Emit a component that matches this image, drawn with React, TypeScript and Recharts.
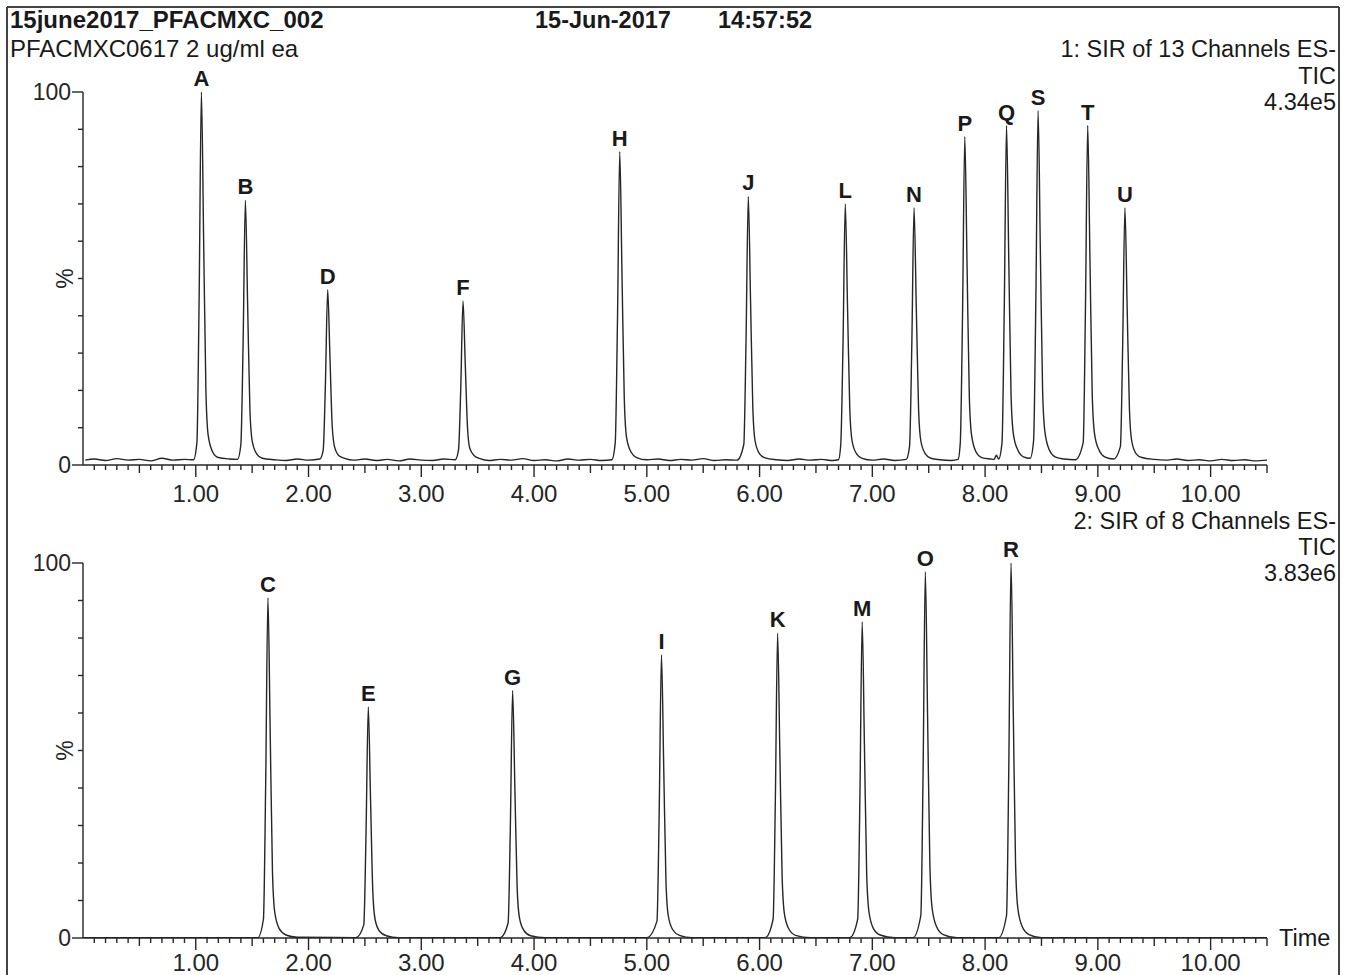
import React from 'react';
import { ComposedChart, Line, XAxis, YAxis, ReferenceDot } from 'recharts';

const FONT = '"Liberation Sans", Arial, Helvetica, sans-serif';
const INK = '#262626';

// ---- axes ----
const xDomain: [number, number] = [0, 10.5];
const majorTickValues = [1, 2, 3, 4, 5, 6, 7, 8, 9, 10];
const majorTickLabels = ['1.00', '2.00', '3.00', '4.00', '5.00', '6.00', '7.00', '8.00', '9.00', '10.00'];
const xTicks = Array.from({ length: 105 }, (_, i) => (i + 1) / 10);
const yTickValues = [0, 10, 20, 30, 40, 50, 60, 70, 80, 90, 100];

// ---- panel 1: SIR of 13 Channels ES- TIC (4.34e5) ----
const topPeakNames = ['A', 'B', 'D', 'F', 'H', 'J', 'L', 'N', 'P', 'Q', 'S', 'T', 'U'];
const topPeakTimes = [1.05, 1.44, 2.17, 3.37, 4.76, 5.9, 6.76, 7.37, 7.82, 8.19, 8.47, 8.91, 9.24];
const topPeakHeights = [100, 71, 47, 44, 84, 72, 70, 69, 88, 91, 95, 91, 69];

const topTrace: [number, number][] = [
  [0.02, 1.3], [0.1, 1.6], [0.2, 1.2], [0.3, 1.7], [0.4, 1.3], [0.5, 1.5], [0.6, 1.1], [0.7, 1.8], [0.8, 1.3], [0.9, 1.5], [0.98, 1.4],
  [1.01, 6], [1.03, 45], [1.05, 100], [1.07, 60], [1.09, 20], [1.11, 8], [1.15, 3.5], [1.2, 2],
  [1.3, 1.6], [1.37, 1.5],
  [1.4, 5.5], [1.42, 33], [1.44, 71], [1.46, 43], [1.48, 15], [1.5, 6.5], [1.54, 3], [1.59, 1.8],
  [1.7, 1.4], [1.8, 1.2], [1.9, 1.6], [2.0, 1.3], [2.1, 1.6],
  [2.13, 4], [2.15, 22], [2.17, 47], [2.19, 29], [2.21, 10.5], [2.23, 5], [2.27, 2.5], [2.32, 1.8],
  [2.4, 1.3], [2.5, 1.6], [2.6, 1.2], [2.7, 1.5], [2.8, 1.1], [2.9, 1.6], [3.0, 1.3], [3.1, 1.2], [3.2, 1.6], [3.3, 1.4],
  [3.33, 4], [3.35, 20.5], [3.37, 44], [3.39, 27], [3.41, 10], [3.43, 4.5], [3.47, 2.5], [3.52, 1.7],
  [3.6, 1.2], [3.7, 1.5], [3.8, 1.3], [3.9, 1.7], [4.0, 1.2], [4.1, 1.4], [4.2, 1.1], [4.3, 1.6], [4.4, 1.3], [4.5, 1.5], [4.6, 1.2], [4.69, 1.4],
  [4.72, 6], [4.74, 39], [4.76, 84], [4.78, 51], [4.8, 18], [4.82, 7.5], [4.86, 3.5], [4.91, 2],
  [5.0, 1.4], [5.1, 1.6], [5.2, 1.2], [5.3, 1.5], [5.4, 1.3], [5.5, 1.7], [5.6, 1.2], [5.7, 1.4], [5.8, 1.3],
  [5.86, 5.5], [5.88, 33.5], [5.9, 72], [5.92, 44], [5.94, 15.5], [5.96, 6.5], [6.0, 3], [6.05, 1.9],
  [6.15, 1.4], [6.25, 1.2], [6.35, 1.6], [6.45, 1.3], [6.55, 1.5], [6.65, 1.2], [6.7, 1.4],
  [6.72, 5.5], [6.74, 32.5], [6.76, 70], [6.78, 42.5], [6.8, 15], [6.82, 6.5], [6.86, 3], [6.91, 1.8],
  [7.0, 1.3], [7.1, 1.6], [7.2, 1.2], [7.3, 1.5],
  [7.33, 5], [7.35, 32], [7.37, 69], [7.39, 42], [7.41, 15], [7.43, 6.5], [7.47, 3], [7.52, 1.8],
  [7.6, 1.4], [7.7, 1.2], [7.76, 1.5],
  [7.78, 6], [7.8, 40.5], [7.82, 88], [7.84, 53.5], [7.86, 18.5], [7.88, 8], [7.92, 3.5], [7.97, 2],
  [8.05, 1.6], [8.08, 1.5], [8.1, 2.6], [8.12, 1.6],
  [8.15, 6], [8.17, 42], [8.19, 91], [8.21, 55], [8.23, 19], [8.25, 8.5], [8.29, 4], [8.34, 2.2],
  [8.4, 1.8],
  [8.43, 6.5], [8.45, 44], [8.47, 95], [8.49, 57.5], [8.51, 20], [8.53, 9], [8.57, 4], [8.62, 2.2],
  [8.7, 1.6], [8.8, 1.4],
  [8.87, 6], [8.89, 42], [8.91, 91], [8.93, 55], [8.95, 19], [8.97, 8.5], [9.01, 4], [9.06, 2.2],
  [9.14, 1.6],
  [9.2, 5], [9.22, 32], [9.24, 69], [9.26, 42], [9.28, 15], [9.3, 6.5], [9.34, 3], [9.39, 2],
  [9.5, 1.5], [9.6, 1.3], [9.7, 1.6], [9.8, 1.2], [9.9, 1.4], [10.0, 1.1], [10.1, 1.5], [10.2, 1.2], [10.3, 1.4], [10.4, 1.1], [10.5, 1.3],
];

// ---- panel 2: SIR of 8 Channels ES- TIC (3.83e6) ----
const bottomPeakNames = ['C', 'E', 'G', 'I', 'K', 'M', 'O', 'R'];
const bottomPeakTimes = [1.64, 2.53, 3.81, 5.13, 6.16, 6.91, 7.47, 8.23];
const bottomPeakHeights = [90.7, 61.6, 66, 75.5, 81.3, 84.3, 97.6, 100];

const bottomTrace: [number, number][] = [
  [0, 0.1], [1.55, 0.1],
  [1.6, 5], [1.62, 41], [1.64, 90.7], [1.66, 55], [1.68, 18], [1.7, 7], [1.74, 2.5], [1.8, 0.8], [1.9, 0.2],
  [2.42, 0.1],
  [2.49, 3.5], [2.51, 28], [2.53, 61.6], [2.55, 37], [2.57, 12.5], [2.59, 5], [2.63, 1.8], [2.69, 0.6], [2.8, 0.1],
  [3.7, 0.1],
  [3.77, 4], [3.79, 30], [3.81, 66], [3.83, 40], [3.85, 13.5], [3.87, 5.5], [3.91, 2], [3.97, 0.6], [4.1, 0.1],
  [5.0, 0.1],
  [5.09, 4.5], [5.11, 34], [5.13, 75.5], [5.15, 45.5], [5.17, 15], [5.19, 6], [5.23, 2.2], [5.29, 0.7], [5.4, 0.1],
  [6.05, 0.1],
  [6.12, 5], [6.14, 37], [6.16, 81.3], [6.18, 49], [6.2, 16.5], [6.22, 6.5], [6.26, 2.4], [6.32, 0.7], [6.45, 0.1],
  [6.8, 0.1],
  [6.87, 5], [6.89, 38], [6.91, 84.3], [6.93, 51], [6.95, 17], [6.97, 7], [7.01, 2.5], [7.07, 0.8], [7.2, 0.1],
  [7.36, 0.1],
  [7.43, 6], [7.45, 44], [7.47, 97.6], [7.49, 59], [7.51, 20], [7.53, 8], [7.57, 3], [7.63, 0.9], [7.75, 0.1],
  [8.12, 0.1],
  [8.19, 6], [8.21, 45], [8.23, 100], [8.25, 60], [8.27, 20], [8.29, 8], [8.33, 3], [8.39, 0.9], [8.5, 0.1],
  [10.5, 0.1],
];

const XTick = (props: any) => {
  const { x, y, payload, labelDy } = props;
  const v = payload.value as number;
  const isMajor = Math.abs(v - Math.round(v)) < 1e-6;
  const isHalf = !isMajor && Math.abs(v * 2 - Math.round(v * 2)) < 1e-6;
  const len = isMajor ? 12 : isHalf ? 8 : 5;
  const idx = majorTickValues.findIndex((m) => Math.abs(m - v) < 1e-6);
  return (
    <g>
      <line x1={x} x2={x} y1={y} y2={y + len} stroke={INK} strokeWidth={1.4} />
      {idx >= 0 && (
        <text x={x} y={y + labelDy} textAnchor="middle" fontSize={24} fontFamily={FONT} fill={INK}>
          {majorTickLabels[idx]}
        </text>
      )}
    </g>
  );
};

const YTick = (props: any) => {
  const { x, y, payload } = props;
  const v = payload.value as number;
  const isEnd = v === 0 || v === 100;
  return (
    <g>
      <line x1={x - (isEnd ? 11 : 5)} x2={x} y1={y} y2={y} stroke={INK} strokeWidth={1.4} />
      {isEnd && (
        <text x={x - 12} y={y + 8} textAnchor="end" fontSize={23} fontFamily={FONT} fill={INK}>
          {String(v)}
        </text>
      )}
      {v === 50 && (
        <text x={x - 18} y={y} textAnchor="middle" fontSize={23} fontFamily={FONT} fill={INK}
          transform={`rotate(-90 ${x - 18} ${y})`} dy={8}>
          %
        </text>
      )}
    </g>
  );
};

function Panel(props: {
  trace: [number, number][];
  names: string[];
  times: number[];
  heights: number[];
  left: number;
  top: number;
  plotHeight: number;
  labelDy: number;
}) {
  const { trace, names, times, heights, left, top, plotHeight, labelDy } = props;
  const data = trace.map(([t, v]) => ({ t, v }));
  return (
    <div style={{ position: 'absolute', left, top }}>
      <ComposedChart width={1267} height={40 + plotHeight + 45} data={data}
        margin={{ top: 40, right: 8, bottom: 0, left: 0 }}>
        <XAxis dataKey="t" type="number" domain={xDomain} ticks={xTicks} interval={0}
          tickSize={0} tickMargin={0} tickLine={false} height={45} allowDataOverflow
          axisLine={{ stroke: INK, strokeWidth: 1.4 }}
          tick={(p: any) => <XTick {...p} labelDy={labelDy} />} />
        <YAxis type="number" domain={[0, 100]} ticks={yTickValues} interval={0} width={75}
          tickSize={0} tickMargin={0} tickLine={false} allowDataOverflow
          axisLine={{ stroke: INK, strokeWidth: 1.4 }}
          tick={(p: any) => <YTick {...p} />} />
        <Line type="monotone" dataKey="v" stroke={INK} strokeWidth={1.4} dot={false}
          activeDot={false} isAnimationActive={false} />
        {names.map((n, i) => (
          <ReferenceDot key={n} x={times[i]} y={heights[i]} r={0} fill="none" stroke="none"
            label={{ value: n, position: 'top', offset: 6, fill: '#1a1a1a', fontSize: 22,
              fontWeight: 700, fontFamily: FONT }} />
        ))}
      </ComposedChart>
    </div>
  );
}

export default function App() {
  return (
    <div style={{ position: 'absolute', left: 0, top: 0, width: 1350, height: 975, overflow: 'hidden',
      background: '#fff', fontFamily: FONT }}>
      <svg width={1350} height={975} style={{ position: 'absolute', left: 0, top: 0 }}>
        <line x1={7} y1={7} x2={1339} y2={7} stroke="#444" strokeWidth={2} />
        <line x1={7} y1={7} x2={7} y2={975} stroke="#444" strokeWidth={2} />
        <line x1={1339} y1={7} x2={1339} y2={975} stroke="#444" strokeWidth={2} />
        <text x={10} y={28} fontSize={24} fontWeight={700} fill="#1a1a1a" fontFamily={FONT}>15june2017_PFACMXC_002</text>
        <text x={10} y={57} fontSize={24} fill="#1a1a1a" fontFamily={FONT}>PFACMXC0617 2 ug/ml ea</text>
        <text x={535} y={28} fontSize={23.5} fontWeight={700} fill="#1a1a1a" fontFamily={FONT}>15-Jun-2017</text>
        <text x={718} y={28} fontSize={23.5} fontWeight={700} fill="#1a1a1a" fontFamily={FONT}>14:57:52</text>
        <text x={1336} y={57} fontSize={23.5} textAnchor="end" fill="#1a1a1a" fontFamily={FONT}>1: SIR of 13 Channels ES-</text>
        <text x={1336} y={84} fontSize={23.5} textAnchor="end" fill="#1a1a1a" fontFamily={FONT}>TIC</text>
        <text x={1336} y={110} fontSize={23.5} textAnchor="end" fill="#1a1a1a" fontFamily={FONT}>4.34e5</text>
        <text x={1336} y={529} fontSize={23.5} textAnchor="end" fill="#1a1a1a" fontFamily={FONT}>2: SIR of 8 Channels ES-</text>
        <text x={1336} y={555} fontSize={23.5} textAnchor="end" fill="#1a1a1a" fontFamily={FONT}>TIC</text>
        <text x={1336} y={581} fontSize={23.5} textAnchor="end" fill="#1a1a1a" fontFamily={FONT}>3.83e6</text>
        <text x={1279} y={946} fontSize={23.5} fill="#1a1a1a" fontFamily={FONT}>Time</text>
      </svg>
      <Panel trace={topTrace} names={topPeakNames} times={topPeakTimes} heights={topPeakHeights}
        left={8} top={52} plotHeight={373} labelDy={37} />
      <Panel trace={bottomTrace} names={bottomPeakNames} times={bottomPeakTimes} heights={bottomPeakHeights}
        left={8} top={523} plotHeight={375} labelDy={33} />
    </div>
  );
}
